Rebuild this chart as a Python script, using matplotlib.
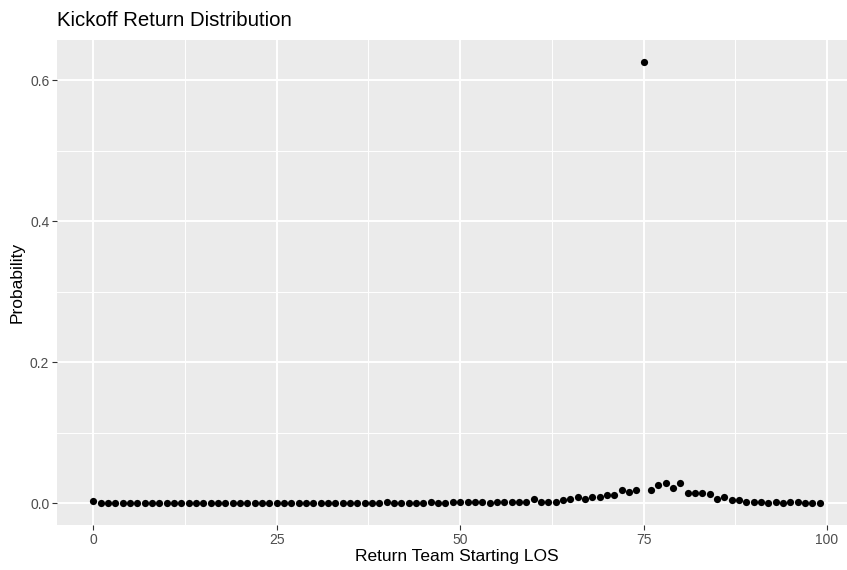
import matplotlib
matplotlib.use("Agg")
import matplotlib.pyplot as plt
import numpy as np

# yard line where the return team starts (0..99)
los = list(range(100))

prob_0_44 = [0.0032, 0.0003, 0.0003, 0.0003, 0.0003, 0.0003, 0.0003, 0.0003, 0.0003, 0.0003,
             0.0003, 0.0003, 0.0003, 0.0003, 0.0003, 0.0003, 0.0003, 0.0003, 0.0003, 0.0003,
             0.0003, 0.0003, 0.0003, 0.0003, 0.0003, 0.0003, 0.0003, 0.0003, 0.0003, 0.0003,
             0.0003, 0.0003, 0.0003, 0.0003, 0.0003, 0.0003, 0.0003, 0.0003, 0.0003, 0.0003,
             0.0015, 0.0003, 0.0003, 0.0003, 0.0003]
prob_45_74 = [0.0002, 0.0012, 0.0002, 0.0002, 0.0012, 0.0012, 0.0012, 0.0012, 0.0012, 0.0002,
              0.0012, 0.0012, 0.0012, 0.0020, 0.0020, 0.0060, 0.0020, 0.0012, 0.0020, 0.0040,
              0.0060, 0.0080, 0.0060, 0.0080, 0.0090, 0.0110, 0.0110, 0.0180, 0.0160, 0.0190]
prob_75 = [0.626]
prob_76_99 = [0.0190, 0.0250, 0.0285, 0.0210, 0.0285, 0.0150, 0.0150, 0.0150, 0.0130, 0.0060,
              0.0080, 0.0040, 0.0040, 0.0020, 0.0012, 0.0020, 0.0002, 0.0012, 0.0002, 0.0012,
              0.0012, 0.0002, 0.0002, 0.0002]
probability = prob_0_44 + prob_45_74 + prob_75 + prob_76_99

plt.rcParams['font.family'] = ['Liberation Sans', 'DejaVu Sans']

fig = plt.figure(figsize=(8.47, 5.70), dpi=100)
ax = fig.add_axes([57 / 847, 45 / 570, 799 / 847, 485 / 570])
ax.set_facecolor('#EBEBEB')

ax.scatter(los, probability, s=27, color='black', zorder=3, linewidths=0)

# ggplot-ish expansion
xr = max(los) - min(los)
yr = max(probability) - min(probability)
ax.set_xlim(min(los) - 0.05 * xr, max(los) + 0.05 * xr)
ax.set_ylim(min(probability) - 0.05 * yr, max(probability) + 0.05 * yr)

ax.set_xticks([0, 25, 50, 75, 100])
ax.set_xticks([12.5, 37.5, 62.5, 87.5], minor=True)
ax.set_yticks([0.0, 0.2, 0.4, 0.6])
ax.set_yticks([0.1, 0.3, 0.5], minor=True)
ax.set_yticklabels(['0.0', '0.2', '0.4', '0.6'])

ax.grid(which='major', color='white', linewidth=1.4)
ax.grid(which='minor', color='white', linewidth=0.7)
ax.set_axisbelow(True)
for sp in ax.spines.values():
    sp.set_visible(False)

ax.tick_params(which='major', length=3.5, width=0.8, color='#333333',
               labelcolor='#4D4D4D', labelsize=10, pad=2)
ax.tick_params(which='minor', length=0)

ax.set_xlabel('Return Team Starting LOS', fontsize=12.5, color='black', labelpad=2)
ax.set_ylabel('Probability', fontsize=12.5, color='black', labelpad=4)
ax.set_title('Kickoff Return Distribution', fontsize=14.7, loc='left', pad=10)

fig.savefig('out.png', dpi=100)
